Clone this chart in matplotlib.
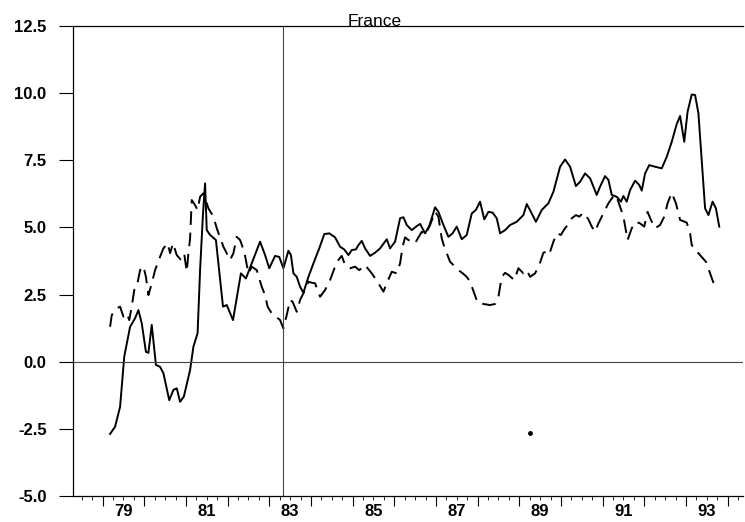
import matplotlib
import numpy as np

matplotlib.use("Agg")
import matplotlib.pyplot as plt  # noqa: E402

# x axis is in (two-digit) years; year labels sit in the middle of each year
solid_t = [
    79.18, 79.30, 79.42, 79.52, 79.66, 79.78, 79.86, 79.94, 80.04, 80.10,
    80.18, 80.28, 80.38, 80.46, 80.60, 80.70, 80.78, 80.86, 80.95, 81.10,
    81.18, 81.28, 81.34, 81.41, 81.46, 81.50, 81.58, 81.72, 81.89, 81.98,
    82.13, 82.32, 82.44, 82.58, 82.78, 82.90, 83.00, 83.14, 83.24, 83.34,
    83.46, 83.52, 83.58, 83.66, 83.74, 83.82, 83.94, 84.06, 84.20, 84.32,
    84.44, 84.58, 84.70, 84.80, 84.90, 84.98, 85.08, 85.14, 85.22, 85.30,
    85.42, 85.54, 85.66, 85.82, 85.90, 86.02, 86.14, 86.22, 86.30, 86.42,
    86.54, 86.62, 86.74, 86.84, 86.98, 87.06, 87.18, 87.30, 87.40, 87.50,
    87.62, 87.74, 87.86, 87.96, 88.06, 88.16, 88.26, 88.36, 88.46, 88.54,
    88.66, 88.78, 88.94, 89.10, 89.18, 89.28, 89.40, 89.54, 89.70, 89.82,
    89.98, 90.10, 90.22, 90.36, 90.46, 90.58, 90.70, 90.86, 90.94, 91.06,
    91.14, 91.22, 91.34, 91.44, 91.50, 91.58, 91.66, 91.78, 91.88, 91.94,
    92.02, 92.12, 92.26, 92.42, 92.54, 92.66, 92.78, 92.86, 92.96, 93.04,
    93.14, 93.22, 93.30, 93.46, 93.54, 93.64, 93.72, 93.80,
]
solid_v = [
    -2.69, -2.42, -1.68, 0.19, 1.30, 1.62, 1.92, 1.43, 0.37, 0.33,
    1.37, -0.12, -0.19, -0.43, -1.43, -1.05, -0.99, -1.49, -1.30, -0.31,
    0.56, 1.06, 3.41, 5.52, 6.64, 4.90, 4.72, 4.53, 2.05, 2.11,
    1.55, 3.29, 3.10, 3.66, 4.47, 3.97, 3.48, 3.94, 3.90, 3.48,
    4.13, 3.97, 3.29, 3.16, 2.79, 2.57, 3.16, 3.66, 4.22, 4.75,
    4.78, 4.63, 4.28, 4.18, 3.97, 4.16, 4.18, 4.34, 4.50, 4.22,
    3.94, 4.06, 4.22, 4.56, 4.22, 4.47, 5.34, 5.38, 5.09, 4.90,
    5.05, 5.13, 4.78, 5.05, 5.75, 5.58, 5.09, 4.65, 4.78, 5.03,
    4.56, 4.72, 5.52, 5.65, 5.96, 5.30, 5.58, 5.55, 5.34, 4.78,
    4.90, 5.09, 5.21, 5.46, 5.87, 5.58, 5.21, 5.65, 5.90, 6.33,
    7.26, 7.53, 7.26, 6.54, 6.70, 7.01, 6.83, 6.21, 6.52, 6.91,
    6.77, 6.21, 6.14, 5.96, 6.17, 5.96, 6.39, 6.74, 6.58, 6.37,
    7.01, 7.32, 7.26, 7.20, 7.63, 8.19, 8.85, 9.15, 8.19, 9.31,
    9.95, 9.93, 9.25, 5.71, 5.46, 5.96, 5.71, 5.03,
]

dash_t = [
    79.18, 79.22, 79.34, 79.42, 79.50, 79.58, 79.64, 79.70, 79.76, 79.82,
    79.90, 79.98, 80.04, 80.10, 80.18, 80.26, 80.38, 80.46, 80.56, 80.62,
    80.69, 80.78, 80.88, 80.96, 81.02, 81.06, 81.10, 81.14, 81.22, 81.28,
    81.34, 81.42, 81.54, 81.66, 81.74, 81.90, 82.06, 82.14, 82.22, 82.30,
    82.40, 82.50, 82.58, 82.70, 82.82, 82.90, 82.96, 83.06, 83.16, 83.26,
    83.34, 83.42, 83.50, 83.56, 83.66, 83.74, 83.86, 83.94, 84.02, 84.10,
    84.22, 84.34, 84.46, 84.58, 84.66, 84.74, 84.82, 84.94, 85.06, 85.16,
    85.30, 85.46, 85.58, 85.74, 85.82, 85.94, 86.06, 86.14, 86.20, 86.26,
    86.34, 86.42, 86.50, 86.58, 86.66, 86.74, 86.86, 86.98, 87.06, 87.14,
    87.20, 87.34, 87.46, 87.54, 87.66, 87.74, 87.82, 87.92, 88.00, 88.14,
    88.30, 88.42, 88.50, 88.58, 88.66, 88.74, 88.88, 88.98, 89.10, 89.18,
    89.26, 89.38, 89.48, 89.58, 89.66, 89.72, 89.82, 89.90, 90.00, 90.08,
    90.16, 90.26, 90.36, 90.44, 90.54, 90.66, 90.74, 90.82, 90.90, 90.98,
    91.06, 91.14, 91.24, 91.32, 91.42, 91.50, 91.60, 91.70, 91.80, 91.90,
    92.00, 92.08, 92.16, 92.26, 92.38, 92.48, 92.56, 92.66, 92.76, 92.86,
    93.02, 93.10, 93.14, 93.30, 93.48, 93.58, 93.68,
]
dash_v = [
    1.30, 1.74, 1.99, 2.05, 1.68, 1.80, 1.55, 2.05, 2.67, 2.79,
    3.41, 3.56, 3.16, 2.48, 2.92, 3.41, 3.91, 4.22, 4.41, 4.04,
    4.41, 3.97, 3.79, 4.01, 3.35, 4.04, 4.59, 6.02, 5.83, 5.65,
    6.14, 6.27, 5.71, 5.40, 4.97, 4.28, 3.79, 4.04, 4.65, 4.53,
    4.10, 3.29, 3.54, 3.41, 2.79, 2.48, 2.05, 1.80, 1.68, 1.55,
    1.24, 1.74, 2.30, 2.23, 1.86, 2.30, 2.67, 2.98, 2.94, 2.92,
    2.42, 2.67, 3.04, 3.54, 3.79, 3.94, 3.60, 3.48, 3.54, 3.41,
    3.60, 3.29, 3.02, 2.61, 2.92, 3.35, 3.29, 3.66, 4.28, 4.63,
    4.53, 4.47, 4.41, 4.63, 4.84, 4.72, 5.09, 5.58, 5.40, 4.59,
    4.28, 3.72, 3.54, 3.41, 3.27, 3.16, 2.98, 2.55, 2.20, 2.15,
    2.11, 2.15, 2.42, 3.16, 3.31, 3.23, 3.04, 3.48, 3.29, 3.41,
    3.16, 3.29, 3.60, 4.06, 4.10, 4.00, 4.47, 4.78, 4.72, 4.93,
    5.09, 5.34, 5.46, 5.40, 5.55, 5.30, 5.03, 4.84, 5.15, 5.40,
    5.65, 5.90, 6.12, 6.21, 5.77, 5.40, 4.53, 4.97, 5.21, 5.15,
    5.03, 5.58, 5.28, 4.97, 5.09, 5.40, 5.90, 6.29, 5.90, 5.28,
    5.18, 4.78, 4.34, 4.04, 3.72, 3.29, 2.86,
]

stray_t = [89.26]
stray_v = [-2.65]

break_year = 83.33
year_labels = ["79", "81", "83", "85", "87", "89", "91", "93"]
y_ticks = [-5.0, -2.5, 0.0, 2.5, 5.0, 7.5, 10.0, 12.5]

plt.rcParams["font.family"] = ["Liberation Sans", "DejaVu Sans"]

fig = plt.figure(figsize=(7.45, 5.22), dpi=100)
ax = fig.add_axes([73 / 745, 26 / 522, 670 / 745, 470 / 522])

ax.plot(solid_t, solid_v, color="black", lw=1.4)
ax.plot(dash_t, dash_v, color="black", lw=1.4, dashes=(7, 4))
ax.plot(stray_t, stray_v, "o", ms=2.5, color="black")
ax.axhline(0, color="#444", lw=0.8)
ax.axvline(break_year, color="#444", lw=0.8)

ax.set_xlim(78.29, 94.37)
ax.set_ylim(-5.0, 12.5)
ax.set_yticks(y_ticks, labels=[f"{v:.1f}" for v in y_ticks], fontsize=12, fontweight="bold")
ax.tick_params(axis="y", length=10, width=0.8, pad=9)

# year boundaries as major ticks, quarters as minor ticks, labels mid-year
ax.set_xticks(np.arange(79, 95), labels=[])
ax.set_xticks(np.arange(78.5, 94.3, 0.25), minor=True)
ax.tick_params(axis="x", which="major", length=7, width=0.8)
ax.tick_params(axis="x", which="minor", length=3, width=0.6)

sec = ax.secondary_xaxis("bottom")
sec.set_xticks([int(y) + 0.5 for y in year_labels], labels=year_labels,
               fontsize=12, fontweight="bold")
sec.tick_params(length=0, pad=6)
sec.spines["bottom"].set_visible(False)

ax.spines["right"].set_visible(False)
for s in ("left", "bottom", "top"):
    ax.spines[s].set_linewidth(0.9)

ax.text(0.451, 1.0, "France", transform=ax.transAxes, ha="center", va="baseline",
        fontsize=12.5)

fig.savefig("out.png", dpi=100)
